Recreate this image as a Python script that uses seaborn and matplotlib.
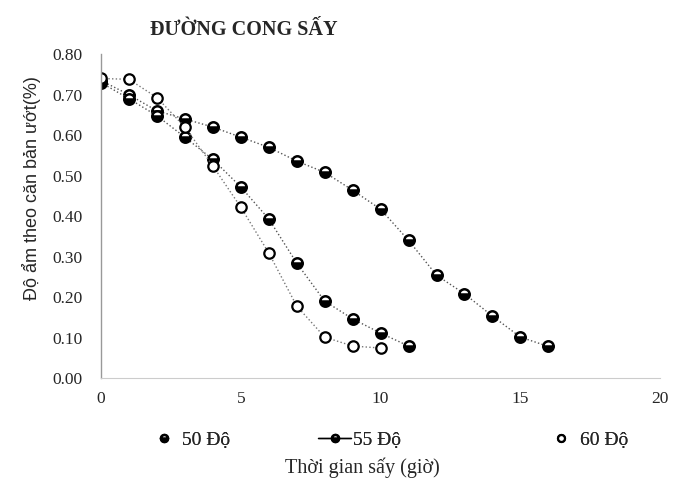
# Drying curve chart - moisture content vs drying time

import pandas as pd
import numpy as np
import matplotlib.pyplot as plt
import seaborn as sns
from matplotlib.lines import Line2D

# data
hours_50 = [0, 1, 2, 3, 4, 5, 6, 7, 8, 9, 10, 11, 12, 13, 14, 15, 16]
moist_50 = [0.735, 0.70, 0.66, 0.64, 0.62, 0.595, 0.57, 0.536, 0.508, 0.464,
            0.417, 0.34, 0.254, 0.208, 0.153, 0.101, 0.078]

hours_55 = [0, 1, 2, 3, 4, 5, 6, 7, 8, 9, 10, 11]
moist_55 = [0.73, 0.69, 0.648, 0.595, 0.54, 0.472, 0.393, 0.284, 0.19, 0.146, 0.111, 0.079]

hours_60 = [0, 1, 2, 3, 4, 5, 6, 7, 8, 9, 10]
moist_60 = [0.74, 0.738, 0.693, 0.62, 0.524, 0.422, 0.309, 0.178, 0.101, 0.079, 0.074]

labels = ['50 Độ', '55 Độ', '60 Độ']
x_ticks = [0, 5, 10, 15, 20]
y_ticks = [0.0, 0.1, 0.2, 0.3, 0.4, 0.5, 0.6, 0.7, 0.8]

sns.set_style("white")
plt.rcParams['font.family'] = ['Liberation Sans', 'DejaVu Sans']
serif = ['Liberation Serif', 'DejaVu Serif']

fig = plt.figure(figsize=(6.87, 4.84), dpi=100)
ax = fig.add_axes([0.147, 0.219, 0.814, 0.669])

dark_marker = dict(marker='o', markersize=7.5, markeredgecolor='black', markeredgewidth=1.8,
                   fillstyle='bottom', markerfacecolor='black', markerfacecoloralt='white')
light_marker = dict(marker='o', markersize=7.5, markeredgecolor='black', markeredgewidth=1.6,
                    markerfacecolor='white')

sns.lineplot(x=hours_50, y=moist_50, ax=ax, color='#555555', linestyle=':', linewidth=1.0,
             **dark_marker)
sns.lineplot(x=hours_55, y=moist_55, ax=ax, color='#555555', linestyle=':', linewidth=1.0,
             **dark_marker)
sns.lineplot(x=hours_60, y=moist_60, ax=ax, color='#777777', linestyle=':', linewidth=1.0,
             **light_marker)

ax.set_xlim(0, 20)
ax.set_ylim(0, 0.8)
ax.set_xticks(x_ticks)
ax.set_xticklabels([str(t) for t in x_ticks], fontsize=12.5, family=serif)
ax.set_yticks(y_ticks)
ax.set_yticklabels([f'{t:.2f}' for t in y_ticks], fontsize=12.5, family=serif)
ax.tick_params(axis='y', length=0, pad=13)
ax.tick_params(axis='x', length=0, pad=9)

for side in ['top', 'right']:
    ax.spines[side].set_visible(False)
ax.spines['left'].set_color('#999999')
ax.spines['bottom'].set_color('#cccccc')
ax.spines['left'].set_linewidth(1.0)
ax.spines['bottom'].set_linewidth(0.8)

ax.set_ylabel('Độ ẩm theo căn bản ướt(%)', fontsize=13)
ax.yaxis.set_label_coords(-0.108, 0.586)
ax.set_xlabel('')

fig.text(0.218, 0.937, 'ĐƯỜNG CONG SẤY', fontsize=14.5, fontweight='bold',
         family=serif, ha='left', va='center')

fig.text(0.527, 0.033, 'Thời gian sấy (giờ)', fontsize=14.5,
         family=serif, ha='center', va='center')

# legend under the plot, one entry each so they sit where the original has them
h50 = Line2D([], [], linestyle='none', **dict(dark_marker, markersize=5))
h55 = Line2D([], [], color='black', linestyle='-', linewidth=1.0, **dict(dark_marker, markersize=5))
h60 = Line2D([], [], linestyle='none', **dict(light_marker, markersize=5))
leg_x = [0.214, 0.463, 0.793]
for h, lab, lx in zip([h50, h55, h60], labels, leg_x):
    leg = fig.legend([h], [lab], loc='center left', bbox_to_anchor=(lx, 0.091),
                     frameon=False, handlelength=1.7, handletextpad=0.1,
                     borderpad=0, borderaxespad=0,
                     prop={'family': serif, 'size': 14})
    fig.add_artist(leg)

plt.savefig('out.png', dpi=100)
plt.close()
